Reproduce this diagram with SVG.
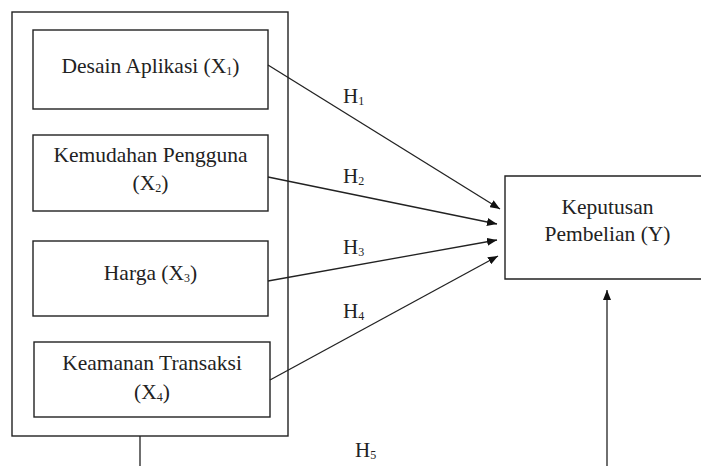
<svg xmlns="http://www.w3.org/2000/svg" width="701" height="466" viewBox="0 0 701 466">
<style>
.box{fill:none;stroke:#222;stroke-width:1.4}
.t{font-family:'Liberation Serif',serif;font-size:21.5px;fill:#222;text-anchor:middle}
.h{font-family:'Liberation Serif',serif;font-size:21px;fill:#222}
.s{font-size:12px}
.ln{stroke:#222;stroke-width:1.3;fill:none}
</style>
<defs>
<marker id="ah" markerWidth="10" markerHeight="8" refX="10" refY="4" orient="auto" markerUnits="userSpaceOnUse">
<path d="M0,0 L10,4 L0,8 Z" fill="#111"/>
</marker>
</defs>
<rect width="701" height="466" fill="#fff"/>
<g id="group-x">
<rect class="box" x="12" y="12" width="276" height="424"/>
</g>
<g id="x1">
<rect class="box" x="33" y="30" width="235" height="79"/>
<text class="t" x="150.5" y="73">Desain Aplikasi (X<tspan class="s" dy="1.5">1</tspan><tspan dy="-1.5">)</tspan></text>
</g>
<g id="x2">
<rect class="box" x="33" y="135" width="235" height="76"/>
<text class="t" x="150.5" y="162">Kemudahan Pengguna</text>
<text class="t" x="150.5" y="190">(X<tspan class="s" dy="1.5">2</tspan><tspan dy="-1.5">)</tspan></text>
</g>
<g id="x3">
<rect class="box" x="33" y="241" width="235" height="75"/>
<text class="t" x="150.5" y="280">Harga (X<tspan class="s" dy="1.5">3</tspan><tspan dy="-1.5">)</tspan></text>
</g>
<g id="x4">
<rect class="box" x="34" y="342" width="236" height="75"/>
<text class="t" x="152" y="370">Keamanan Transaksi</text>
<text class="t" x="152" y="399">(X<tspan class="s" dy="1.5">4</tspan><tspan dy="-1.5">)</tspan></text>
</g>
<g id="y">
<path class="box" d="M702,176 H505 V279 H702"/>
<text class="t" x="607.5" y="214">Keputusan</text>
<text class="t" x="607.5" y="241">Pembelian (Y)</text>
</g>
<g id="connectors">
<line class="ln" x1="268" y1="65" x2="500" y2="209" marker-end="url(#ah)"/>
<line class="ln" x1="268" y1="177" x2="497" y2="224" marker-end="url(#ah)"/>
<line class="ln" x1="268" y1="281" x2="497" y2="240" marker-end="url(#ah)"/>
<line class="ln" x1="270" y1="380" x2="498" y2="256" marker-end="url(#ah)"/>
<line class="ln" x1="140" y1="436" x2="140" y2="466"/>
<line class="ln" x1="607" y1="466" x2="607" y2="290" stroke="#444" stroke-width="1.6" marker-end="url(#ah)"/>
</g>
<g id="labels">
<text class="h" x="343" y="103">H<tspan class="s" dy="1.5">1</tspan></text>
<text class="h" x="343" y="183">H<tspan class="s" dy="1.5">2</tspan></text>
<text class="h" x="343" y="254">H<tspan class="s" dy="1.5">3</tspan></text>
<text class="h" x="343" y="318">H<tspan class="s" dy="1.5">4</tspan></text>
<text class="h" x="355" y="457">H<tspan class="s" dy="1.5">5</tspan></text>
</g>
</svg>
